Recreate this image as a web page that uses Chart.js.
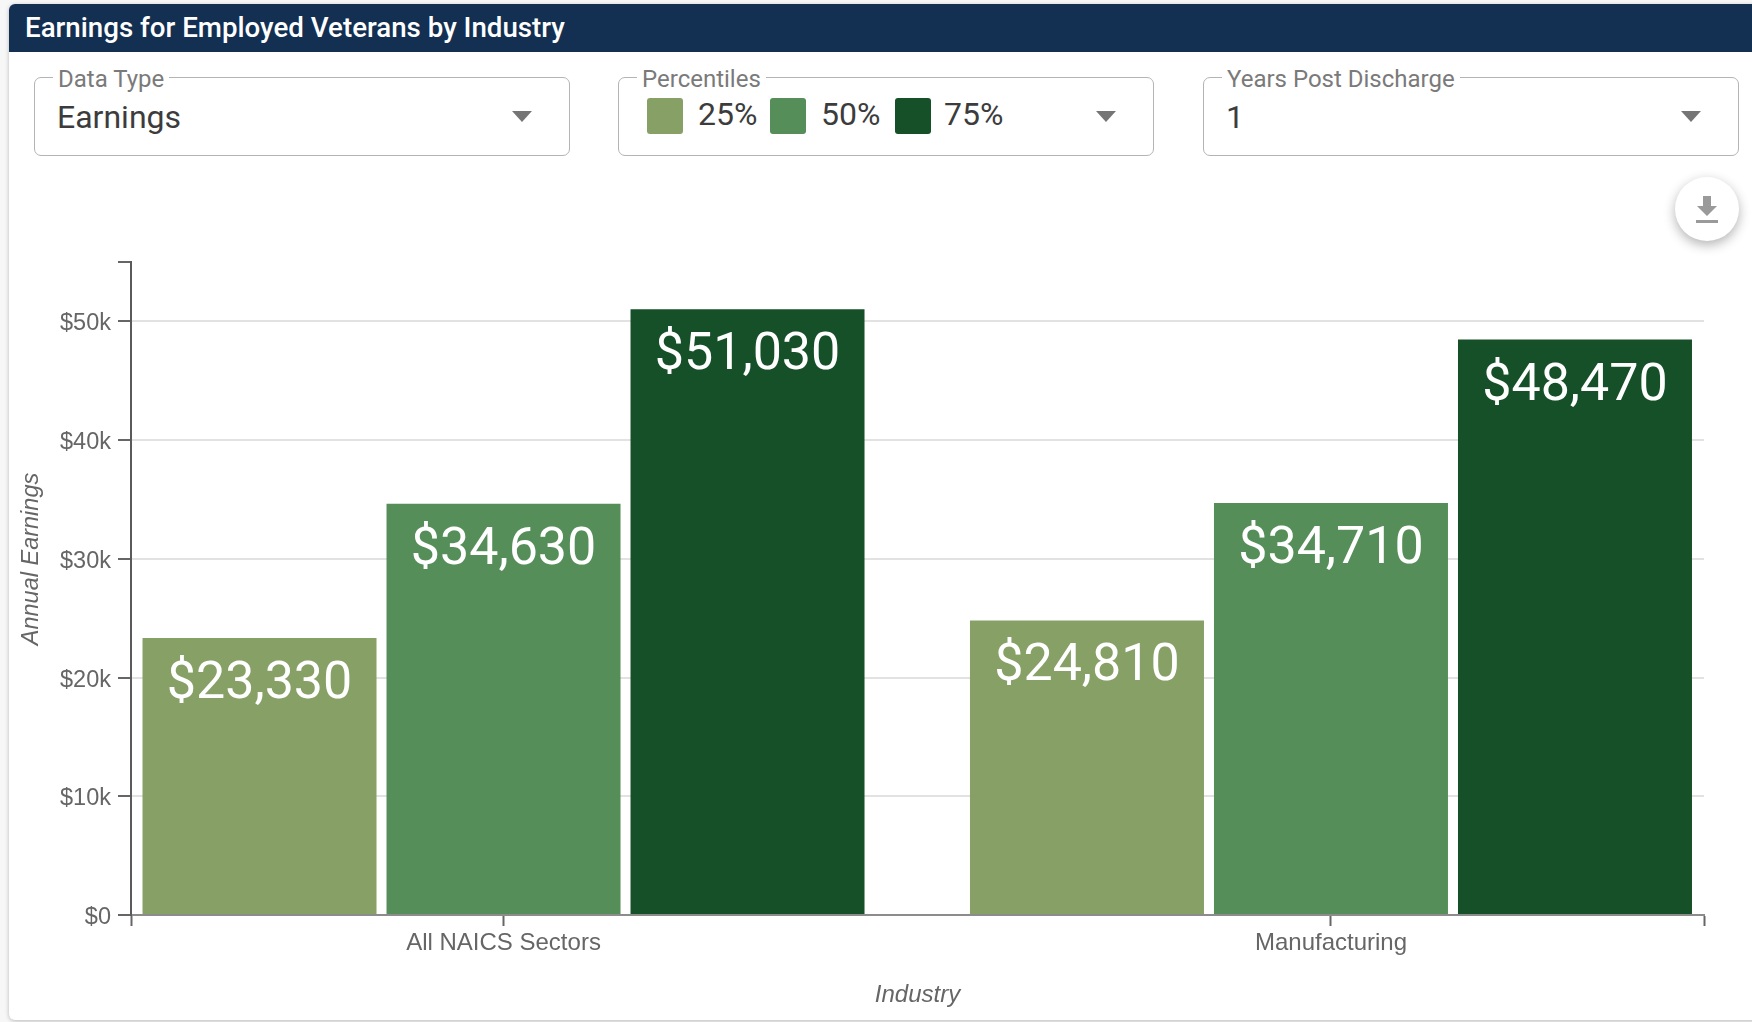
<!DOCTYPE html>
<html>
<head>
<meta charset="utf-8">
<title>Earnings for Employed Veterans by Industry</title>
<script src="https://cdn.jsdelivr.net/npm/chart.js@4"></script>
<style>
  html, body { margin: 0; padding: 0; width: 1752px; height: 1022px; overflow: hidden; background: #f7f7f7; font-family: Roboto, sans-serif; }
  .card { position: absolute; left: 9px; top: 4px; width: 1760px; height: 1016px; background: #fff; border-radius: 6px; box-shadow: 0 1px 4px rgba(0,0,0,.25); }
  .card-header { position: absolute; left: 0; top: 0; right: 0; height: 48px; line-height: 48px; background: #132f52; color: #fff; border-radius: 6px 6px 0 0; padding-left: 16px; font-size: 27.7px; font-weight: 500; }
  .field { position: absolute; top: 77px; width: 536px; height: 79px; box-sizing: border-box; border: 1.5px solid #b4b4b4; border-radius: 7px; background: #fff; }
  .field-label { position: absolute; left: 18px; top: -13px; padding: 0 5px; background: #fff; color: #7a7a7a; font-size: 24px; line-height: 28px; white-space: nowrap; }
  .field-value { position: absolute; left: 22px; top: 19px; color: #3c3c3c; font-size: 32px; line-height: 40px; }
  .arrow { position: absolute; right: 37px; top: 33px; width: 0; height: 0; border-left: 10px solid transparent; border-right: 10px solid transparent; border-top: 11px solid #757575; }
  .swatch { position: absolute; top: 20px; width: 36px; height: 36px; border-radius: 3px; }
  .swatch-text { position: absolute; top: 16px; color: #3c3c3c; font-size: 32px; line-height: 40px; }
  .chart-wrap { position: absolute; left: 10px; top: 220px; width: 1740px; height: 800px; }
  .download { position: absolute; left: 1675px; top: 177px; width: 64px; height: 64px; border-radius: 50%; background: #fff; box-shadow: 0 4px 12px rgba(0,0,0,.3); z-index: 2; }
  .download svg { position: absolute; left: 16px; top: 16px; }
</style>
</head>
<body>
<div class="card">
  <div class="card-header">Earnings for Employed Veterans by Industry</div>
</div>

<div class="field" style="left:34px">
  <span class="field-label">Data Type</span>
  <span class="field-value">Earnings</span>
  <span class="arrow"></span>
</div>
<div class="field" style="left:618px" id="percentiles">
  <span class="field-label">Percentiles</span>
  <span class="arrow"></span>
</div>
<div class="field" style="left:1203px">
  <span class="field-label">Years Post Discharge</span>
  <span class="field-value">1</span>
  <span class="arrow"></span>
</div>

<div class="download">
  <svg width="32" height="32" viewBox="0 0 32 32"><path d="M12 3h8v10h6L16 23 6 13h6z M5 27h22v3H5z" fill="#9a9a9a"/></svg>
</div>

<div class="chart-wrap"><canvas id="earnings-chart"></canvas></div>

<script>
/* =====================================
   DATA
======================================== */
const categories = ["All NAICS Sectors", "Manufacturing"];
const percentiles = ["25%", "50%", "75%"];
const earnings25 = [23330, 24810];
const earnings50 = [34630, 34710];
const earnings75 = [51030, 48470];
const yTicks = [0, 10000, 20000, 30000, 40000, 50000];
const yMax = 55000;
const xMin = -0.4502;
const xMax = 1.4508;
const colors = ["#86a066", "#558e58", "#165028"];

/* =====================================
   PERCENTILE CHIPS
======================================== */
const percentileBox = document.getElementById("percentiles");
const swatchLeft = [28, 151, 276];
const swatchTextLeft = [79, 202, 325];
percentiles.forEach((label, i) => {
    percentileBox.insertAdjacentHTML("beforeend",
        `<span class="swatch" style="left:${swatchLeft[i]}px;background:${colors[i]}"></span>
         <span class="swatch-text" style="left:${swatchTextLeft[i]}px">${label}</span>`);
});

/* =====================================
   CHART
======================================== */
const money = v => "$" + v.toLocaleString("en-US");

// value labels inside the top of each bar
const barLabels = {
    id: "barLabels",
    afterDatasetsDraw(chart) {
        const ctx = chart.ctx;
        ctx.save();
        ctx.fillStyle = "#fff";
        ctx.font = "52px Roboto";
        ctx.textAlign = "center";
        ctx.textBaseline = "middle";
        chart.data.datasets.forEach((ds, i) => {
            chart.getDatasetMeta(i).data.forEach((bar, j) => {
                ctx.fillText(money(ds.data[j].y), bar.x, bar.y + 47);
            });
        });
        ctx.restore();
    }
};

// y axis title sits above the middle of the axis, the scale title can't do that
const yAxisTitle = {
    id: "yAxisTitle",
    afterDraw(chart) {
        const ctx = chart.ctx;
        ctx.save();
        ctx.translate(21, 339);
        ctx.rotate(-Math.PI / 2);
        ctx.fillStyle = "#666";
        ctx.font = "italic 23.5px 'Liberation Sans'";
        ctx.textAlign = "center";
        ctx.textBaseline = "middle";
        ctx.fillText("Annual Earnings", 0, 0);
        ctx.restore();
    }
};

const toPoints = values => values.map((v, i) => ({ x: i, y: v }));
const setTicks = values => scale => { scale.ticks = values.map(value => ({ value })); };

new Chart(document.getElementById("earnings-chart"), {
    type: "bar",
    data: {
        datasets: [
            { label: percentiles[0], data: toPoints(earnings25), backgroundColor: colors[0] },
            { label: percentiles[1], data: toPoints(earnings50), backgroundColor: colors[1] },
            { label: percentiles[2], data: toPoints(earnings75), backgroundColor: colors[2] }
        ]
    },
    options: {
        responsive: true,
        maintainAspectRatio: false,
        animation: false,
        // bar width is measured from the smallest tick gap, which is the axis end to the first band
        categoryPercentage: 1.965,
        barPercentage: 0.959,
        layout: { padding: { left: 0, top: 42, right: 46, bottom: 0 } },
        plugins: {
            legend: { display: false },
            tooltip: { enabled: false }
        },
        scales: {
            x: {
                type: "linear",
                offset: false,
                min: xMin,
                max: xMax,
                afterBuildTicks: setTicks([xMin, 0, 1, xMax]),
                afterFit: scale => { scale.height = 105; },
                border: { color: "#8c8c8c", width: 2 },
                grid: { offset: false, drawOnChartArea: false, tickColor: "#666", tickLength: 11, tickWidth: 2 },
                ticks: {
                    autoSkip: false,
                    maxRotation: 0,
                    padding: 3,
                    color: "#666",
                    font: { family: "'Liberation Sans'", size: 24 },
                    callback: value => categories[value] || ""
                },
                title: {
                    display: true,
                    text: "Industry",
                    color: "#666",
                    padding: { top: 0, bottom: 10 },
                    font: { family: "'Liberation Sans'", size: 24, style: "italic" }
                }
            },
            y: {
                min: 0,
                max: yMax,
                afterBuildTicks: setTicks([...yTicks, yMax]),
                afterFit: scale => { scale.width = 121; },
                border: { color: "#5a5a5a", width: 2 },
                grid: {
                    color: c => c.tick.value > 0 && c.tick.value < yMax ? "#e2e2e2" : "transparent",
                    lineWidth: 2,
                    tickColor: "#666",
                    tickLength: 13,
                    tickWidth: 2
                },
                ticks: {
                    autoSkip: false,
                    padding: 7,
                    labelOffset: 2.5,
                    color: "#666",
                    font: { family: "'Liberation Sans'", size: 23.5 },
                    callback: value => value === yMax ? "" : (value === 0 ? "$0" : "$" + value / 1000 + "k")
                }
            }
        }
    },
    plugins: [barLabels, yAxisTitle]
});
</script>
</body>
</html>
